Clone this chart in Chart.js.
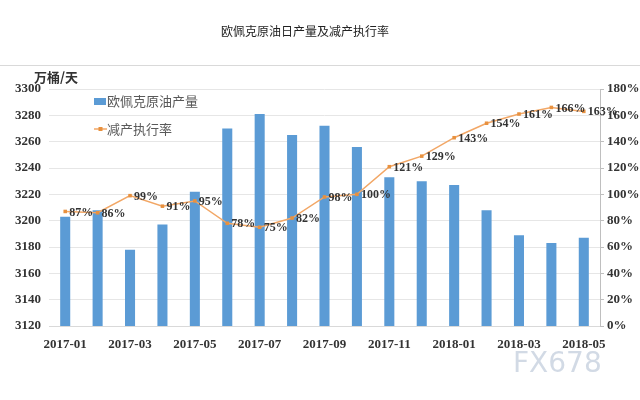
<!DOCTYPE html>
<html lang="zh">
<head>
<meta charset="UTF-8">
<title>欧佩克原油日产量及减产执行率</title>
<script src="https://cdn.jsdelivr.net/npm/chart.js"></script>
<style>
  html, body { margin: 0; padding: 0; background: #fff; }
  #wrap { width: 640px; height: 400px; position: relative; }
</style>
</head>
<body>
<div id="wrap"><canvas id="chart"></canvas></div>
<script>
// 月份
const months = ['2017-01','2017-02','2017-03','2017-04','2017-05','2017-06','2017-07','2017-08','2017-09',
                '2017-10','2017-11','2017-12','2018-01','2018-02','2018-03','2018-04','2018-05'];
// 欧佩克原油产量 (万桶/天)
const production = [3203, 3208, 3178, 3197, 3222, 3270, 3281, 3265, 3272, 3256, 3233, 3230, 3227, 3208, 3189, 3183, 3187];
// 减产执行率 (%)
const compliance = [87, 86, 99, 91, 95, 78, 75, 82, 98, 100, 121, 129, 143, 154, 161, 166, 163];

const serif = '"Liberation Serif", "DejaVu Serif", serif';
const cjk = '"Noto Sans CJK SC", "Noto Sans", sans-serif';

// 标题、单位、图例、数据标签
const extras = {
    id: 'extras',
    afterDraw(chart) {
        const ctx = chart.ctx;
        const area = chart.chartArea;
        ctx.save();
        // 标题 + 分隔线
        ctx.fillStyle = '#222';
        ctx.font = '12px ' + cjk;
        ctx.textAlign = 'center';
        ctx.textBaseline = 'middle';
        ctx.fillText('欧佩克原油日产量及减产执行率', 305, 31);
        ctx.strokeStyle = '#d9d9d9';
        ctx.lineWidth = 1;
        ctx.beginPath();
        ctx.moveTo(0, 65.5);
        ctx.lineTo(640, 65.5);
        ctx.stroke();
        // 单位
        ctx.font = 'bold 13px ' + cjk;
        ctx.textAlign = 'left';
        ctx.fillStyle = '#333';
        ctx.fillText('万桶/天', 34, 77);

        // 图例
        ctx.font = '13px ' + cjk;
        ctx.fillStyle = '#5B9BD5';
        ctx.fillRect(area.left + 45, area.top + 9, 12, 7);
        ctx.fillStyle = '#595959';
        ctx.fillText('欧佩克原油产量', area.left + 58, area.top + 12);
        ctx.strokeStyle = '#F2A766';
        ctx.lineWidth = 1.5;
        ctx.beginPath();
        ctx.moveTo(area.left + 45, area.top + 40);
        ctx.lineTo(area.left + 58, area.top + 40);
        ctx.stroke();
        ctx.fillStyle = '#E8913F';
        ctx.fillRect(area.left + 49.5, area.top + 38, 4, 4);
        ctx.fillStyle = '#595959';
        ctx.fillText('减产执行率', area.left + 58, area.top + 40);

        // 数据标签
        const meta = chart.getDatasetMeta(0);
        ctx.font = 'bold 12px ' + serif;
        ctx.fillStyle = '#333';
        ctx.textAlign = 'left';
        meta.data.forEach((pt, i) => {
            ctx.fillText(compliance[i] + '%', pt.x + 4, pt.y + 1);
        });

        // 水印
        ctx.font = '28px "DejaVu Sans", sans-serif';
        ctx.fillStyle = 'rgba(195, 205, 220, 0.75)';
        ctx.textAlign = 'left';
        ctx.fillText('FX678', 513, 365);
        ctx.restore();
    }
};

new Chart(document.getElementById('chart'), {
    data: {
        labels: months,
        datasets: [
            {
                type: 'line',
                label: '减产执行率',
                data: compliance,
                yAxisID: 'y1',
                borderColor: '#F2A766',
                backgroundColor: '#E8913F',
                borderWidth: 1.5,
                pointStyle: 'rect',
                pointRadius: 2.5,
                pointBorderWidth: 0,
                tension: 0,
                order: 0
            },
            {
                type: 'bar',
                label: '欧佩克原油产量',
                data: production,
                yAxisID: 'y',
                backgroundColor: '#5B9BD5',
                barPercentage: 0.62,
                categoryPercentage: 0.5,
                order: 1
            }
        ]
    },
    plugins: [extras],
    options: {
        responsive: true,
        maintainAspectRatio: false,
        animation: false,
        layout: { padding: { top: 89, bottom: 45, left: 0, right: 0 } },
        plugins: {
            legend: { display: false },
            tooltip: { enabled: false }
        },
        scales: {
            x: {
                grid: { display: false, drawTicks: true },
                border: { color: '#d9d9d9' },
                ticks: {
                    autoSkip: false,
                    maxRotation: 0,
                    color: '#333',
                    font: { family: serif, size: 13, weight: 'bold' },
                    callback: (v, i) => i % 2 === 0 ? months[i] : ''
                },
                afterFit: s => { s.height = 29; }
            },
            y: {
                position: 'left',
                min: 3120,
                max: 3300,
                ticks: {
                    stepSize: 20,
                    color: '#333',
                    padding: 8,
                    font: { family: serif, size: 13, weight: 'bold' },
                    callback: v => String(v)
                },
                grid: { color: '#e6e6e6', drawTicks: false },
                border: { display: false },
                afterFit: s => { s.width = 49; }
            },
            y1: {
                position: 'right',
                min: 0,
                max: 180,
                ticks: {
                    stepSize: 20,
                    color: '#333',
                    padding: 3,
                    font: { family: serif, size: 13, weight: 'bold' },
                    callback: v => v + '%'
                },
                grid: { drawOnChartArea: false, color: '#bfbfbf', tickLength: 4 },
                border: { color: '#bfbfbf' },
                afterFit: s => { s.width = 40; }
            }
        }
    }
});
</script>
</body>
</html>
